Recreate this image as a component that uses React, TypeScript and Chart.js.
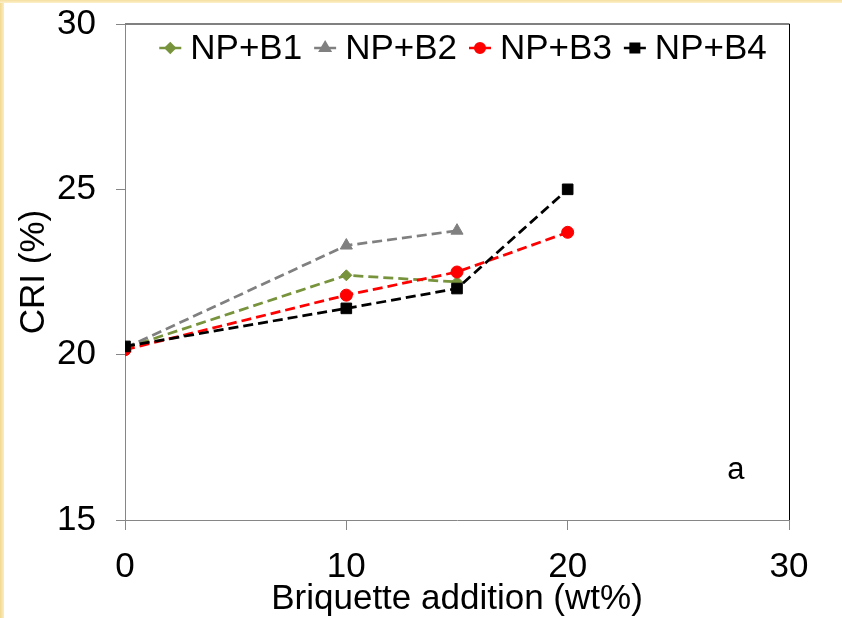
import React, { useEffect, useRef } from "react";
import { Chart, registerables } from "chart.js";
import { drawPoint } from "chart.js/helpers";

Chart.register(...registerables);

// Briquette addition (wt%) and measured CRI (%) per blend
const additions = [0, 10, 15, 20];
const seriesNames = ["NP+B1", "NP+B2", "NP+B3", "NP+B4"];
const criB1: (number | null)[] = [20.2, 22.4, 22.2, null];
const criB2: (number | null)[] = [20.2, 23.3, 23.75, null];
const criB3: (number | null)[] = [20.15, 21.8, 22.5, 23.7];
const criB4: (number | null)[] = [20.25, 21.4, 22.0, 25.0];
const xTicks = [0, 10, 20, 30];
const yTicks = [15, 20, 25, 30];
const xTitle = "Briquette addition (wt%)";
const yTitle = "CRI (%)";
const panelLabel = "a";

const FONT = '"Liberation Sans", Arial, sans-serif';
const TEXT_SIZE = 35;

const seriesStyles = [
  { color: "#77933C", pointStyle: "rectRot", radius: 5.5 },
  { color: "#808080", pointStyle: "triangle", radius: 7 },
  { color: "#FF0000", pointStyle: "circle", radius: 6 },
  { color: "#000000", pointStyle: "rect", radius: 7.5 },
];

const seriesValues = [criB1, criB2, criB3, criB4];

function toPoints(values: (number | null)[]) {
  const pts: { x: number; y: number }[] = [];
  values.forEach((v, i) => {
    if (v !== null) pts.push({ x: additions[i], y: v });
  });
  return pts;
}

const framePlugin = {
  id: "frame",
  beforeDraw(chart: any) {
    const { ctx, width, height } = chart;
    ctx.save();
    ctx.fillStyle = "#ffffff";
    ctx.fillRect(0, 0, width, height);
    const left = ctx.createLinearGradient(0, 0, 4, 0);
    left.addColorStop(0, "#f2d98f");
    left.addColorStop(1, "#fbeec6");
    ctx.fillStyle = left;
    ctx.fillRect(0, 0, 4, height);
    const top = ctx.createLinearGradient(0, 0, 0, 3);
    top.addColorStop(0, "#f5e0a0");
    top.addColorStop(1, "#fcf0cc");
    ctx.fillStyle = top;
    ctx.fillRect(0, 0, width, 3);
    ctx.restore();
  },
  beforeDatasetsDraw(chart: any) {
    const { ctx, chartArea: a } = chart;
    ctx.save();
    ctx.strokeStyle = "#808080";
    ctx.lineWidth = 2;
    ctx.beginPath();
    ctx.moveTo(a.left, a.top);
    ctx.lineTo(a.right + 0.5, a.top);
    ctx.stroke();
    ctx.strokeStyle = "#000000";
    ctx.lineWidth = 1;
    ctx.beginPath();
    ctx.moveTo(a.right + 0.5, a.top);
    ctx.lineTo(a.right + 0.5, a.bottom);
    ctx.stroke();
    ctx.restore();
  },
  afterDraw(chart: any) {
    const { ctx, chartArea: a } = chart;
    ctx.save();
    // legend: short solid line with the series marker, then the name
    ctx.font = `${TEXT_SIZE}px ${FONT}`;
    ctx.textBaseline = "middle";
    ctx.textAlign = "left";
    const lineLen = 22;
    const gapText = 9;
    const gapItem = 12;
    const datasets = chart.data.datasets;
    const widths = datasets.map((d: any) => ctx.measureText(d.label).width);
    const total =
      widths.reduce((s: number, w: number) => s + lineLen + gapText + w, 0) +
      gapItem * (datasets.length - 1);
    let x = (a.left + a.right) / 2 - total / 2 + 6;
    const y = a.top + 24;
    datasets.forEach((d: any, i: number) => {
      ctx.strokeStyle = d.borderColor;
      ctx.lineWidth = 2.5;
      ctx.setLineDash([]);
      ctx.beginPath();
      ctx.moveTo(x, y);
      ctx.lineTo(x + lineLen, y);
      ctx.stroke();
      ctx.fillStyle = d.pointBackgroundColor;
      ctx.strokeStyle = d.pointBorderColor;
      drawPoint(
        ctx,
        { pointStyle: d.pointStyle, rotation: 0, radius: d.pointRadius * 0.8, borderWidth: 1 },
        x + lineLen / 2,
        y
      );
      ctx.fillStyle = "#000000";
      ctx.fillText(d.label, x + lineLen + gapText, y + 1);
      x += lineLen + gapText + widths[i] + gapItem;
    });
    // panel letter
    ctx.font = `${TEXT_SIZE - 4}px ${FONT}`;
    ctx.textAlign = "center";
    ctx.fillText(panelLabel, a.left + (a.right - a.left) * 0.92, a.top + (a.bottom - a.top) * 0.9);
    ctx.restore();
  },
};

export default function App() {
  const canvasRef = useRef<HTMLCanvasElement | null>(null);

  useEffect(() => {
    if (!canvasRef.current) return;
    const font = { family: FONT, size: TEXT_SIZE };
    const chart = new Chart(canvasRef.current, {
      type: "line",
      data: {
        datasets: seriesNames.map((name, i) => {
          const s = seriesStyles[i];
          return {
            label: name,
            data: toPoints(seriesValues[i]),
            borderColor: s.color,
            backgroundColor: s.color,
            pointBackgroundColor: s.color,
            pointBorderColor: s.color,
            pointBorderWidth: 1,
            pointStyle: s.pointStyle as any,
            pointRadius: s.radius,
            borderWidth: 2.75,
            borderDash: [10, 5],
            tension: 0,
            fill: false,
            order: seriesNames.length - 1 - i,
          };
        }),
      },
      options: {
        responsive: false,
        animation: false,
        events: [],
        layout: { padding: { top: 24, right: 53, left: 0, bottom: 0 } },
        plugins: { legend: { display: false }, tooltip: { enabled: false } },
        scales: {
          x: {
            type: "linear",
            min: xTicks[0],
            max: xTicks[xTicks.length - 1],
            afterBuildTicks: (s: any) => {
              s.ticks = xTicks.map((v) => ({ value: v }));
            },
            afterFit: (s: any) => {
              s.height = 98;
              s.paddingLeft = 0;
              s.paddingRight = 0;
            },
            grid: { drawOnChartArea: false, drawTicks: true, tickLength: 10, color: "#868686" },
            border: { display: true, color: "#868686", width: 1 },
            ticks: { font, color: "#000000", padding: 16, maxRotation: 0 },
            title: {
              display: true,
              text: xTitle,
              font: { ...font, lineHeight: 1.05 },
              color: "#000000",
              padding: { top: 0, bottom: 0 },
            },
          },
          y: {
            type: "linear",
            min: yTicks[0],
            max: yTicks[yTicks.length - 1],
            afterBuildTicks: (s: any) => {
              s.ticks = yTicks.map((v) => ({ value: v }));
            },
            afterFit: (s: any) => {
              s.width = 125;
              s.paddingTop = 0;
              s.paddingBottom = 0;
            },
            grid: { drawOnChartArea: false, drawTicks: true, tickLength: 9, color: "#868686" },
            border: { display: true, color: "#868686", width: 1 },
            ticks: { font, color: "#000000", padding: 20 },
            title: {
              display: true,
              text: yTitle,
              font,
              color: "#000000",
              padding: { top: 13, bottom: 0 },
            },
          },
        },
      },
      plugins: [framePlugin],
    });
    return () => chart.destroy();
  }, []);

  return (
    <div style={{ position: "absolute", left: 0, top: 0, width: 842, height: 618 }}>
      <canvas ref={canvasRef} width={842} height={618} />
    </div>
  );
}
